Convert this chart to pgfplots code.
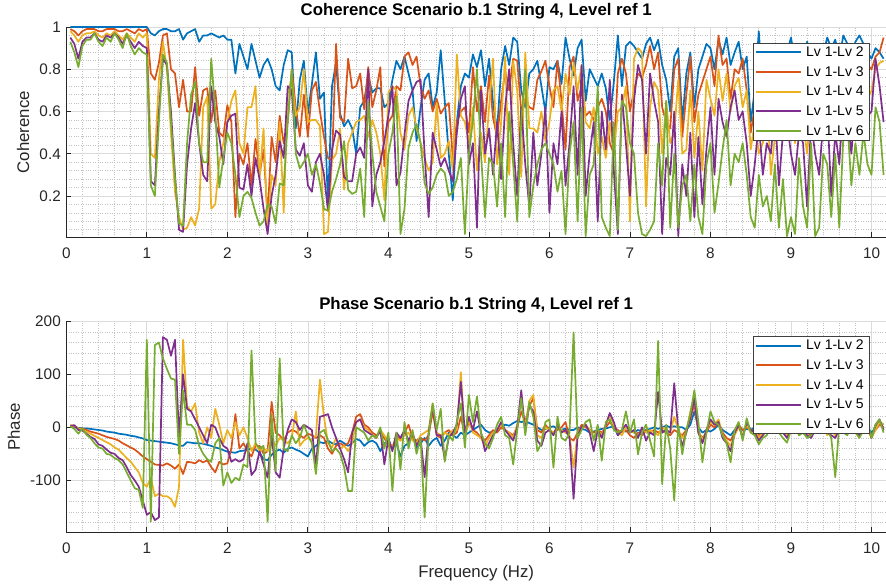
\documentclass[border=0pt]{standalone}
\usepackage{fontspec}
\setmainfont{Liberation Sans}
\usepackage{pgfplots}
\usepackage{pgfplotstable}
\pgfplotsset{compat=1.18}
\definecolor{mB}{rgb}{0,0.447,0.741}
\definecolor{mO}{rgb}{0.850,0.325,0.098}
\definecolor{mY}{rgb}{0.929,0.694,0.125}
\definecolor{mP}{rgb}{0.494,0.184,0.556}
\definecolor{mG}{rgb}{0.466,0.674,0.188}

\pgfplotstableread{
f c2 c3 c4 c5 c6
0.05 1.00 0.99 0.98 0.95 0.93
0.10 1.00 0.98 0.96 0.92 0.88
0.15 1.00 0.96 0.93 0.85 0.81
0.20 1.00 0.98 0.96 0.93 0.91
0.25 1.00 0.99 0.97 0.95 0.94
0.30 1.00 0.99 0.97 0.95 0.94
0.35 1.00 0.99 0.98 0.97 0.97
0.40 1.00 0.98 0.96 0.94 0.93
0.45 1.00 0.98 0.95 0.93 0.91
0.50 1.00 0.99 0.97 0.96 0.95
0.55 1.00 0.99 0.96 0.95 0.93
0.60 1.00 0.99 0.98 0.97 0.97
0.65 1.00 0.98 0.96 0.95 0.94
0.70 1.00 0.98 0.94 0.92 0.90
0.75 1.00 0.99 0.97 0.96 0.97
0.80 1.00 0.98 0.95 0.93 0.91
0.85 1.00 0.97 0.93 0.90 0.87
0.90 1.00 0.99 0.97 0.93 0.90
0.95 1.00 0.98 0.95 0.91 0.88
1.00 1.00 0.99 0.97 0.90 0.87
1.05 0.97 0.78 0.40 0.27 0.25
1.10 0.96 0.75 0.38 0.25 0.20
1.15 0.98 0.83 0.75 0.60 0.55
1.20 0.99 0.96 0.93 0.85 0.87
1.25 0.99 0.97 0.80 0.82 0.83
1.30 0.98 0.80 0.50 0.60 0.55
1.35 0.98 0.78 0.22 0.30 0.28
1.40 0.99 0.62 0.10 0.04 0.07
1.45 0.94 0.75 0.04 0.03 0.06
1.50 0.97 0.60 0.05 0.35 0.45
1.55 0.98 0.60 0.10 0.52 0.68
1.60 0.99 0.81 0.06 0.64 0.74
1.65 0.93 0.58 0.14 0.45 0.45
1.70 0.96 0.70 0.62 0.30 0.36
1.75 0.96 0.71 0.67 0.27 0.36
1.80 0.97 0.55 0.14 0.72 0.85
1.85 0.96 0.70 0.16 0.55 0.60
1.90 0.95 0.50 0.36 0.48 0.24
1.95 0.96 0.48 0.45 0.35 0.38
2.00 0.94 0.63 0.55 0.55 0.50
2.05 0.94 0.55 0.65 0.58 0.45
2.10 0.78 0.10 0.70 0.59 0.30
2.15 0.92 0.40 0.45 0.24 0.10
2.20 0.86 0.35 0.40 0.23 0.20
2.25 0.80 0.45 0.62 0.35 0.22
2.30 0.92 0.25 0.62 0.20 0.19
2.35 0.84 0.47 0.72 0.38 0.12
2.40 0.76 0.30 0.28 0.28 0.06
2.45 0.82 0.42 0.52 0.14 0.08
2.50 0.85 0.10 0.05 0.02 0.16
2.55 0.80 0.48 0.30 0.20 0.15
2.60 0.72 0.36 0.25 0.30 0.07
2.65 0.70 0.58 0.55 0.46 0.26
2.70 0.82 0.45 0.12 0.38 0.25
2.75 0.89 0.55 0.68 0.72 0.55
2.80 0.88 0.80 0.76 0.70 0.80
2.85 0.52 0.62 0.58 0.42 0.40
2.90 0.75 0.48 0.62 0.39 0.33
2.95 0.84 0.68 0.80 0.45 0.36
3.00 0.59 0.48 0.55 0.25 0.40
3.05 0.73 0.70 0.56 0.22 0.30
3.10 0.88 0.74 0.56 0.36 0.35
3.15 0.66 0.60 0.53 0.40 0.26
3.20 0.69 0.48 0.02 0.30 0.14
3.25 0.15 0.38 0.03 0.13 0.13
3.30 0.72 0.37 0.37 0.42 0.22
3.35 0.83 0.92 0.40 0.51 0.28
3.40 0.59 0.57 0.52 0.49 0.35
3.45 0.53 0.55 0.23 0.29 0.46
3.50 0.56 0.85 0.45 0.27 0.23
3.55 0.52 0.71 0.50 0.27 0.21
3.60 0.40 0.72 0.55 0.40 0.22
3.65 0.62 0.78 0.56 0.43 0.33
3.70 0.65 0.61 0.58 0.38 0.10
3.75 0.77 0.81 0.48 0.80 0.65
3.80 0.69 0.62 0.56 0.15 0.40
3.85 0.71 0.70 0.50 0.30 0.22
3.90 0.71 0.81 0.40 0.36 0.15
3.95 0.62 0.34 0.18 0.46 0.08
4.00 0.64 0.55 0.69 0.58 0.40
4.05 0.75 0.58 0.72 0.72 0.50
4.10 0.84 0.72 0.70 0.25 0.67
4.15 0.80 0.70 0.50 0.31 0.02
4.20 0.86 0.86 0.42 0.49 0.14
4.25 0.78 0.88 0.58 0.65 0.43
4.30 0.70 0.82 0.62 0.70 0.50
4.35 0.46 0.86 0.52 0.74 0.54
4.40 0.62 0.72 0.45 0.75 0.45
4.45 0.75 0.66 0.38 0.40 0.26
4.50 0.78 0.70 0.32 0.10 0.21
4.55 0.62 0.60 0.36 0.50 0.24
4.60 0.69 0.66 0.64 0.42 0.30
4.65 0.89 0.59 0.38 0.34 0.33
4.70 0.65 0.62 0.40 0.38 0.31
4.75 0.40 0.64 0.46 0.32 0.20
4.80 0.18 0.38 0.32 0.27 0.22
4.85 0.55 0.55 0.87 0.50 0.28
4.90 0.72 0.60 0.58 0.66 0.38
4.95 0.78 0.62 0.55 0.72 0.02
5.00 0.76 0.50 0.45 0.35 0.40
5.05 0.87 0.81 0.62 0.45 0.56
5.10 0.81 0.60 0.32 0.05 0.80
5.15 0.89 0.72 0.50 0.70 0.40
5.20 0.72 0.55 0.36 0.40 0.10
5.25 0.85 0.77 0.62 0.52 0.38
5.30 0.64 0.57 0.85 0.30 0.35
5.35 0.51 0.48 0.35 0.55 0.15
5.40 0.80 0.65 0.55 0.28 0.45
5.45 0.91 0.79 0.86 0.62 0.10
5.50 0.82 0.70 0.30 0.80 0.60
5.55 0.95 0.85 0.84 0.45 0.35
5.60 0.93 0.84 0.70 0.20 0.08
5.65 0.70 0.60 0.29 0.62 0.55
5.70 0.62 0.66 0.88 0.35 0.80
5.75 0.78 0.62 0.52 0.15 0.10
5.80 0.80 0.61 0.52 0.50 0.25
5.85 0.84 0.75 0.50 0.25 0.35
5.90 0.72 0.79 0.60 0.40 0.42
5.95 0.60 0.84 0.46 0.62 0.45
6.00 0.81 0.72 0.55 0.12 0.40
6.05 0.80 0.62 0.70 0.45 0.35
6.10 0.84 0.84 0.72 0.35 0.22
6.15 0.73 0.65 0.60 0.60 0.32
6.20 0.95 0.42 0.78 0.25 0.02
6.25 0.85 0.81 0.68 0.45 0.40
6.30 0.77 0.86 0.83 0.72 0.55
6.35 0.90 0.65 0.70 0.30 0.08
6.40 0.94 0.72 0.82 0.82 0.62
6.45 0.65 0.58 0.55 0.20 0.01
6.50 0.80 0.60 0.52 0.40 0.30
6.55 0.76 0.56 0.62 0.55 0.35
6.60 0.72 0.62 0.40 0.08 0.72
6.65 0.78 0.66 0.48 0.60 0.10
6.70 0.71 0.60 0.38 0.42 0.05
6.75 0.56 0.45 0.55 0.75 0.01
6.80 0.74 0.40 0.40 0.32 0.55
6.85 0.96 0.78 0.60 0.02 0.04
6.90 0.72 0.85 0.62 0.68 0.65
6.95 0.91 0.78 0.72 0.45 0.62
7.00 0.93 0.60 0.08 0.20 0.45
7.05 0.91 0.70 0.85 0.65 0.40
7.10 0.88 0.78 0.90 0.82 0.12
7.15 0.85 0.76 0.88 0.75 0.02
7.20 0.92 0.82 0.15 0.40 0.01
7.25 0.95 0.91 0.62 0.78 0.04
7.30 0.89 0.80 0.74 0.65 0.08
7.35 0.94 0.88 0.70 0.55 0.45
7.40 0.82 0.62 0.40 0.02 0.25
7.45 0.75 0.55 0.65 0.38 0.65
7.50 0.60 0.52 0.45 0.30 0.05
7.55 0.86 0.80 0.50 0.60 0.40
7.60 0.90 0.85 0.75 0.01 0.05
7.65 0.55 0.48 0.40 0.35 0.25
7.70 0.78 0.68 0.42 0.20 0.30
7.75 0.88 0.86 0.70 0.50 0.08
7.80 0.62 0.55 0.38 0.10 0.35
7.85 0.80 0.68 0.60 0.48 0.10
7.90 0.86 0.74 0.32 0.16 0.02
7.95 0.92 0.80 0.75 0.42 0.35
8.00 0.90 0.86 0.66 0.62 0.45
8.05 0.80 0.72 0.58 0.30 0.12
8.10 0.94 0.96 0.80 0.66 0.26
8.15 0.87 0.82 0.65 0.55 0.42
8.20 0.95 0.85 0.78 0.48 0.56
8.25 0.82 0.66 0.60 0.62 0.25
8.30 0.88 0.80 0.72 0.70 0.40
8.35 0.93 0.78 0.76 0.56 0.36
8.40 0.80 0.85 0.62 0.60 0.45
8.45 0.86 0.70 0.70 0.45 0.30
8.50 0.55 0.50 0.42 0.20 0.10
8.55 0.70 0.62 0.55 0.35 0.05
8.60 0.98 0.80 0.40 0.55 0.30
8.65 0.70 0.60 0.45 0.30 0.15
8.70 0.88 0.75 0.66 0.45 0.20
8.75 0.80 0.55 0.30 0.40 0.08
8.80 0.90 0.78 0.48 0.62 0.35
8.85 0.86 0.65 0.52 0.25 0.05
8.90 0.92 0.82 0.70 0.50 0.28
8.95 0.88 0.72 0.60 0.55 0.01
9.00 0.95 0.86 0.58 0.40 0.10
9.05 0.84 0.74 0.45 0.30 0.02
9.10 0.90 0.80 0.62 0.50 0.38
9.15 0.86 0.70 0.55 0.45 0.15
9.20 0.93 0.85 0.40 0.15 0.05
9.25 0.88 0.76 0.62 0.55 0.45
9.30 0.80 0.62 0.58 0.40 0.01
9.35 0.92 0.82 0.70 0.30 0.05
9.40 0.87 0.72 0.50 0.55 0.40
9.45 0.95 0.88 0.78 0.62 0.35
9.50 0.90 0.80 0.65 0.20 0.10
9.55 0.94 0.86 0.72 0.50 0.40
9.60 0.85 0.70 0.55 0.35 0.05
9.65 0.96 0.88 0.80 0.66 0.48
9.70 0.92 0.84 0.74 0.58 0.55
9.75 0.85 0.72 0.60 0.40 0.25
9.80 0.93 0.80 0.70 0.66 0.45
9.85 0.96 0.85 0.72 0.62 0.30
9.90 0.92 0.78 0.68 0.70 0.50
9.95 0.88 0.82 0.66 0.58 0.35
10.00 0.85 0.80 0.70 0.60 0.30
10.05 0.90 0.86 0.80 0.85 0.62
10.10 0.88 0.88 0.83 0.72 0.55
10.15 0.85 0.95 0.84 0.55 0.30
}\coh

\pgfplotstableread{
f p2 p3 p4 p5 p6
0.05 2 3 4 3 2
0.10 0 2 3 4 -3
0.15 -1 -3 -2 -5 -12
0.20 -2 -2 -5 -6 -2
0.25 -2 -5 -8 -12 -14
0.30 -3 -8 -12 -18 -20
0.35 -4 -10 -16 -22 -30
0.40 -5 -12 -20 -32 -38
0.45 -6 -15 -24 -35 -40
0.50 -8 -18 -28 -42 -50
0.55 -9 -20 -32 -48 -52
0.60 -10 -22 -38 -50 -58
0.65 -12 -25 -42 -58 -62
0.70 -13 -30 -50 -62 -70
0.75 -14 -34 -58 -75 -85
0.80 -16 -38 -65 -90 -100
0.85 -17 -42 -75 -100 -115
0.90 -19 -48 -85 -112 -118
0.95 -21 -55 -105 -138 -152
1.00 -24 -60 -112 -165 165
1.05 -25 -65 -95 -160 -178
1.10 -26 -70 -130 -175 155
1.15 -27 -71 -125 -170 160
1.20 -28 -72 -130 170 130
1.25 -29 -68 -130 165 110
1.30 -30 -72 -135 135 92
1.35 -32 -78 -150 165 90
1.40 -34 -70 -112 -20 -50
1.45 -35 -88 165 100 70
1.50 -28 -65 40 35 5
1.55 -29 -66 30 30 5
1.60 -30 -68 45 15 -5
1.65 -30 -62 -10 0 -35
1.70 -31 -66 -30 -15 -50
1.75 -33 -62 0 -30 -60
1.80 -35 -75 -20 5 -65
1.85 -38 -85 35 0 -30
1.90 -40 -65 5 -20 -20
1.95 -43 -70 -30 -35 -110
2.00 -46 -68 -5 -40 -85
2.05 -47 -40 -20 -65 -105
2.10 -48 25 10 -60 -95
2.15 -45 -40 -15 -65 -100
2.20 -44 -30 0 -60 -70
2.25 -42 -45 -20 -30 -75
2.30 -40 -55 -45 -90 145
2.35 -42 -35 -30 -80 -30
2.40 -48 -35 -45 -45 -40
2.45 -60 -50 -40 -70 -35
2.50 -62 -45 -45 -95 -178
2.55 -52 48 -20 -15 24
2.60 -45 -10 -35 -85 -82
2.65 -42 -15 -20 -95 130
2.70 -48 -25 -25 -40 -40
2.75 -40 -10 -30 -5 -45
2.80 -38 -5 -20 15 -15
2.85 -42 -8 30 10 -30
2.90 -45 -15 -35 -5 -20
2.95 -50 -20 -25 5 5
3.00 -55 -12 -20 0 -15
3.05 -40 -15 -25 -5 -30
3.10 -35 -20 -15 -75 -88
3.15 -28 -15 90 20 -10
3.20 -30 -20 20 22 -5
3.25 -25 -40 -30 25 -25
3.30 -30 -50 -38 0 -45
3.35 -32 -35 -20 -20 -40
3.40 -25 -30 -40 -40 -50
3.45 -30 -35 -35 -60 -75
3.50 -35 -30 -45 -85 -120
3.55 -30 -10 -30 -10 -120
3.60 -22 20 10 10 0
3.65 -25 25 15 15 -5
3.70 -35 5 0 -5 -10
3.75 -28 0 -5 -10 -25
3.80 -25 -10 -15 -15 -15
3.85 -30 -15 -20 -20 -20
3.90 -45 -10 -5 -5 0
3.95 -30 -20 -15 -70 -40
4.00 -25 -35 -30 -20 -10
4.05 -40 -40 -35 -45 -120
4.10 -30 -15 -20 -10 -10
4.15 -55 -25 -25 -20 -80
4.20 -35 -10 -15 -5 10
4.25 -30 5 -10 -25 -40
4.30 -15 -20 -25 -10 -5
4.35 -40 -25 -30 -35 -50
4.40 -30 -20 -15 -20 -20
4.45 -20 -25 -10 -94 -170
4.50 -35 -15 -5 -10 -15
4.55 -25 30 45 40 45
4.60 -20 -15 -10 -15 -5
4.65 -35 -20 -15 -15 35
4.70 -25 -10 -10 -60 -65
4.75 -10 -5 -15 -20 -15
4.80 -15 -15 -5 -10 -25
4.85 -20 -10 -5 5 10
4.90 -10 20 104 86 45
4.95 -15 -15 -20 -10 -38
5.00 -10 10 15 20 61
5.05 -5 -5 -10 -5 10
5.10 0 -10 -15 30 58
5.15 5 -20 -20 -10 -10
5.20 -5 -25 -35 -45 -30
5.25 -10 -15 -20 -30 -40
5.30 -8 -5 -10 -15 -20
5.35 -5 -10 -5 -5 5
5.40 0 0 5 10 20
5.45 5 -5 -5 -5 -15
5.50 3 -10 -10 -15 -20
5.55 8 -15 -20 -25 -70
5.60 12 0 5 0 -5
5.65 10 30 50 70 55
5.70 12 10 0 -10 -15
5.75 8 40 50 42 48
5.80 5 55 61 30 20
5.85 0 -5 -15 -25 -45
5.90 -5 -10 -20 -35 -30
5.95 -3 5 0 -10 10
6.00 0 -5 -5 -5 15
6.05 2 -10 -10 -15 -76
6.10 -3 -5 0 5 20
6.15 -5 0 -5 -10 -20
6.20 -2 10 -10 -5 -25
6.25 -5 -20 -15 -20 -10
6.30 -5 -25 -76 -135 179
6.35 0 -10 -10 -15 -20
6.40 -3 5 -2 0 -5
6.45 -5 0 5 5 10
6.50 -10 -5 -5 -10 15
6.55 -8 -10 -20 -45 -25
6.60 -5 -5 -5 -5 5
6.65 -3 -10 -15 -20 -63
6.70 -2 0 5 5 10
6.75 0 10 23 27 15
6.80 2 0 5 10 -5
6.85 -15 -5 -10 -15 -10
6.90 -5 -10 -15 -5 -5
6.95 -8 -5 0 5 30
7.00 -5 -15 -5 -10 -10
7.05 -10 -20 -10 -5 15
7.10 -5 -10 -15 -20 -51
7.15 -8 -15 -5 0 -10
7.20 -5 -5 -10 -25 5
7.25 -3 -10 -5 -10 -25
7.30 0 -5 -10 -15 -55
7.35 -3 -10 -15 67 163
7.40 0 -5 0 -10 -107
7.45 3 -10 -5 -5 5
7.50 0 -15 -10 -10 -40
7.55 2 -5 20 83 -138
7.60 0 -10 -5 -5 5
7.65 0 -15 -20 -35 -51
7.70 -5 -5 -10 -10 -5
7.75 5 15 30 20 25
7.80 30 45 55 54 70
7.85 0 -10 -5 -10 10
7.90 -10 -20 -25 -30 -66
7.95 -5 -10 -5 -5 -10
8.00 -8 5 10 15 30
8.05 -3 0 5 5 10
8.10 5 10 15 10 5
8.15 -5 -10 -15 -20 -15
8.20 -10 -20 -25 -30 -30
8.25 -15 -25 -35 -45 -66
8.30 -5 -10 -15 -10 -5
8.35 0 5 0 5 10
8.40 -5 -5 -15 -20 -25
8.45 -3 0 5 10 17
8.50 -5 -5 -10 -5 -10
8.55 0 -10 -5 -10 -15
8.60 -8 -15 -20 -25 -32
8.65 -3 -5 -10 -15 -20
8.70 0 0 -5 -5 -15
8.75 5 -5 0 5 10
8.80 0 5 -5 0 5
8.85 -5 -5 -10 -5 -10
8.90 -3 -10 -5 -10 -20
8.95 -10 -5 -15 -20 -29
9.00 -5 -10 -10 -5 -5
9.05 0 5 0 5 10
9.10 -5 -10 -15 -10 -15
9.15 -3 0 -5 -5 -10
9.20 -5 -10 -10 -15 -20
9.25 -8 -15 -10 -20 -15
9.30 -3 0 -5 -5 0
9.35 -5 -5 -10 -5 -10
9.40 0 5 0 5 15
9.45 -5 -10 -15 -10 -5
9.50 -3 -5 -5 -15 -20
9.55 -8 -10 -15 -20 -94
9.60 -3 0 -5 -5 5
9.65 0 -5 -5 -10 -10
9.70 -5 -10 -10 -5 -15
9.75 -3 0 5 0 5
9.80 0 -5 -10 -10 -10
9.85 -5 -10 -5 -15 -20
9.90 -3 -5 -10 -5 -5
9.95 0 0 -5 5 10
10.00 -10 -15 -20 -20 -20
10.05 0 -5 -5 5 5
10.10 10 5 10 15 15
10.15 5 0 5 -5 -10
}\pha

\pgfplotsset{
  mystyle/.style={
    scale only axis, width=819.7pt,
    xmin=0, xmax=10.18,
    axis x line*=bottom, axis y line*=left,
    axis line style={-, draw=black!85, line width=0.8pt},
    tick align=inside, major tick length=5pt, minor tick length=0pt,
    tick style={draw=black!85, line width=0.8pt},
    xtick={0,1,2,3,4,5,6,7,8,9,10},
    xticklabels={0,1,2,3,4,5,6,7,8,9,10},
    minor x tick num=4,
    grid=both,
    major grid style={draw=black!14, line width=0.7pt},
    minor grid style={draw=black!24, dotted, line width=0.7pt},
    ticklabel style={font=\fontsize{15.3}{17}\selectfont, text=black!85},
    xticklabel style={yshift=-7pt},
    yticklabel style={xshift=-2pt},
    label style={font=\fontsize{16.8}{19}\selectfont, text=black!85},
    title style={font=\fontsize{16.8}{19}\selectfont\bfseries, at={(axis description cs:0.5,1)}, anchor=base, yshift=5.5pt},
    legend style={font=\fontsize{14}{16}\selectfont, draw=black!75, line width=0.6pt, anchor=north east,
      inner xsep=2pt, inner ysep=2.5pt, row sep=6.5pt,
      nodes={inner xsep=4pt, inner ysep=1pt}},
    legend cell align=left,
    legend image code/.code={\draw[#1, line width=2pt] (0pt,0pt) -- (45pt,0pt);},
    every axis plot/.append style={line width=1.7pt, line join=round},
  }
}

\begin{document}
\begin{tikzpicture}
\useasboundingbox (0,0) rectangle (886pt,586pt);
\begin{axis}[mystyle, at={(66.3pt,348.7pt)}, anchor=south west, height=210.3pt,
  ymin=0.0045, ymax=1,
  ytick={0.2,0.4,0.6,0.8,1}, yticklabels={0.2,0.4,0.6,0.8,1},
  minor ytick={0.04,0.08,0.12,0.16,0.24,0.28,0.32,0.36,0.44,0.48,0.52,0.56,0.64,0.68,0.72,0.76,0.84,0.88,0.92,0.96},
  title={Coherence Scenario b.1 String 4, Level ref 1},
  ylabel={Coherence},
  ylabel style={at={(axis description cs:-0.0528,0.5)}, anchor=center},
  legend style={at={(axis description cs:0.9805,0.925)}},
]
\addplot[mB] table[x=f, y=c2] {\coh};
\addplot[mO] table[x=f, y=c3] {\coh};
\addplot[mY] table[x=f, y=c4] {\coh};
\addplot[mP] table[x=f, y=c5] {\coh};
\addplot[mG] table[x=f, y=c6] {\coh};
\legend{Lv 1-Lv 2, Lv 1-Lv 3, Lv 1-Lv 4, Lv 1-Lv 5, Lv 1-Lv 6}
\end{axis}
\begin{axis}[mystyle, at={(66.3pt,53.7pt)}, anchor=south west, height=211pt,
  ymin=-198, ymax=200,
  ytick={-100,0,100,200}, yticklabels={-100,0,100,200},
  minor ytick={-180,-160,-140,-120,-80,-60,-40,-20,20,40,60,80,120,140,160,180},
  title={Phase Scenario b.1 String 4, Level ref 1},
  ylabel={Phase},
  ylabel style={at={(axis description cs:-0.064,0.5)}, anchor=center},
  xlabel={Frequency (Hz)},
  xlabel style={at={(axis description cs:0.5,0)}, anchor=base, yshift=-45pt},
  legend style={at={(axis description cs:0.9805,0.930)}},
]
\addplot[mB] table[x=f, y=p2] {\pha};
\addplot[mO] table[x=f, y=p3] {\pha};
\addplot[mY] table[x=f, y=p4] {\pha};
\addplot[mP] table[x=f, y=p5] {\pha};
\addplot[mG] table[x=f, y=p6] {\pha};
\legend{Lv 1-Lv 2, Lv 1-Lv 3, Lv 1-Lv 4, Lv 1-Lv 5, Lv 1-Lv 6}
\end{axis}
\end{tikzpicture}
\end{document}
